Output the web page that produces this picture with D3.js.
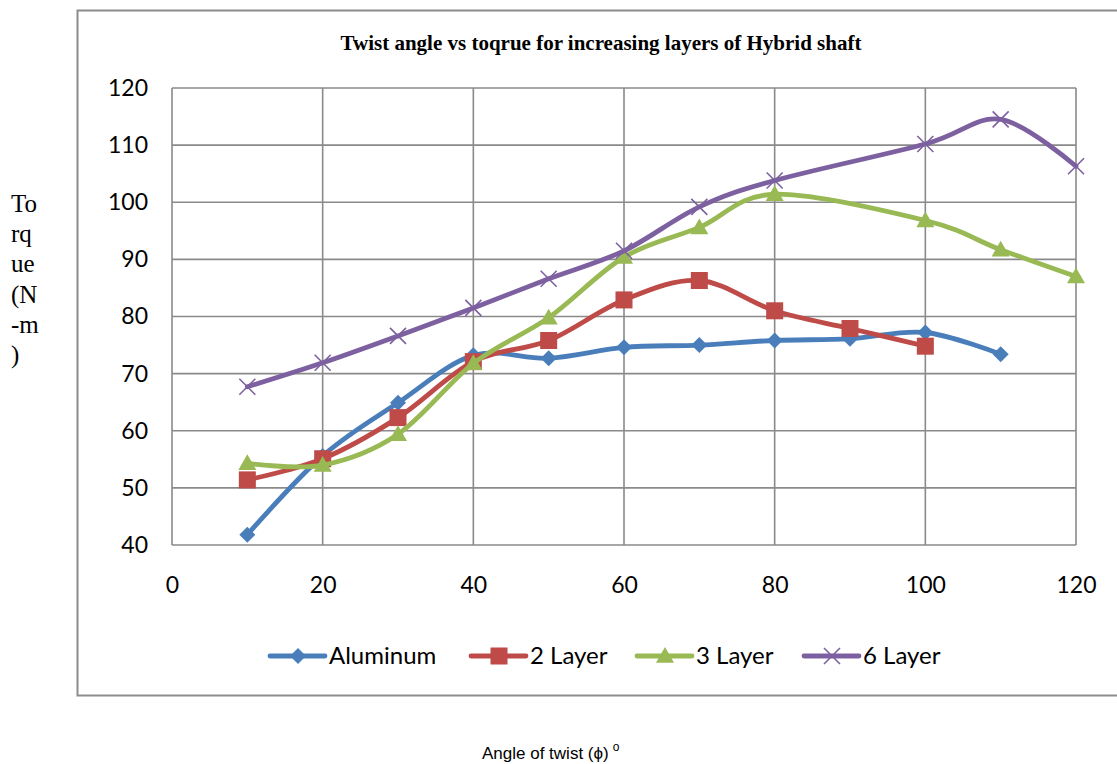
<!DOCTYPE html>
<html>
<head>
<meta charset="utf-8">
<script src="https://cdn.jsdelivr.net/npm/d3@7"></script>
<style>
  html, body { margin: 0; padding: 0; background: #ffffff; }
  svg { display: block; }
</style>
</head>
<body>
<svg id="chart" width="1117" height="764"></svg>
<script>
// Twist angle (degrees) against torque (N-m) for each shaft build
const aluminumAngle = [10, 20, 30, 40, 50, 60, 70, 80, 90, 100, 110];
const aluminumTorque = [41.8, 55.6, 64.9, 73.2, 72.7, 74.6, 75.0, 75.8, 76.1, 77.2, 73.4];

const layer2Angle = [10, 20, 30, 40, 50, 60, 70, 80, 90, 100];
const layer2Torque = [51.4, 55.1, 62.3, 72.1, 75.8, 82.9, 86.3, 81.0, 77.9, 74.8];

const layer3Angle = [10, 20, 30, 40, 50, 60, 70, 80, 100, 110, 120];
const layer3Torque = [54.3, 54.0, 59.4, 71.8, 79.8, 90.4, 95.6, 101.4, 96.8, 91.7, 87.0];

const layer6Angle = [10, 20, 30, 40, 50, 60, 70, 80, 100, 110, 120];
const layer6Torque = [67.7, 71.9, 76.6, 81.5, 86.6, 91.5, 99.2, 103.8, 110.2, 114.5, 106.3];

const seriesNames = ["Aluminum", "2 Layer", "3 Layer", "6 Layer"];
const xTicks = [0, 20, 40, 60, 80, 100, 120];
const yTicks = [40, 50, 60, 70, 80, 90, 100, 110, 120];

const chartTitle = "Twist angle vs toqrue for increasing layers of Hybrid shaft";
const yLabelLines = ["To", "rq", "ue", "(N", "-m", ")"];
const xLabel = "Angle of twist (\u03d5)";

const series = [
  { name: seriesNames[0], xs: aluminumAngle, ys: aluminumTorque, color: "#4a7ebb", marker: "diamond" },
  { name: seriesNames[1], xs: layer2Angle, ys: layer2Torque, color: "#be4b48", marker: "square" },
  { name: seriesNames[2], xs: layer3Angle, ys: layer3Torque, color: "#98b954", marker: "triangle" },
  { name: seriesNames[3], xs: layer6Angle, ys: layer6Torque, color: "#7d60a0", marker: "cross" }
];

const svg = d3.select("#chart");
const plot = { left: 172, right: 1076, top: 88, bottom: 545 };

const x = d3.scaleLinear().domain([0, 120]).range([plot.left, plot.right]);
const y = d3.scaleLinear().domain([40, 120]).range([plot.bottom, plot.top]);

// outer chart frame (its right edge runs past the page)
svg.append("rect")
  .attr("x", 77.5).attr("y", 10.5)
  .attr("width", 1060).attr("height", 685)
  .attr("fill", "#ffffff")
  .attr("stroke", "#8c8c8c").attr("stroke-width", 2);

// title
svg.append("text")
  .attr("x", 601).attr("y", 50)
  .attr("text-anchor", "middle")
  .attr("font-family", "'Liberation Serif', 'Times New Roman', serif")
  .attr("font-weight", "bold")
  .attr("font-size", 21)
  .attr("fill", "#000")
  .text(chartTitle);

// gridlines
const grid = svg.append("g").attr("stroke", "#8a8a8a").attr("stroke-width", 1.6);
grid.selectAll("line.v").data(xTicks).join("line")
  .attr("class", "v")
  .attr("x1", d => x(d)).attr("x2", d => x(d))
  .attr("y1", plot.top).attr("y2", plot.bottom);
grid.selectAll("line.h").data(yTicks).join("line")
  .attr("class", "h")
  .attr("x1", plot.left).attr("x2", plot.right)
  .attr("y1", d => y(d)).attr("y2", d => y(d));

// axes (labels only, the grid provides the lines)
const fontTick = "Lato, 'Open Sans', sans-serif";
const yAxis = d3.axisLeft(y).tickValues(yTicks).tickSize(0).tickPadding(24);
const gy = svg.append("g").attr("transform", `translate(${plot.left},0)`).call(yAxis);
gy.select(".domain").remove();
gy.selectAll("text").attr("font-family", fontTick).attr("font-size", 23).attr("fill", "#000");

const xAxis = d3.axisBottom(x).tickValues(xTicks).tickSize(0).tickPadding(32);
const gx = svg.append("g").attr("transform", `translate(0,${plot.bottom})`).call(xAxis);
gx.select(".domain").remove();
gx.selectAll("text").attr("font-family", fontTick).attr("font-size", 23).attr("fill", "#000");

// marker shapes
function drawMarker(g, type, color, cx, cy, scale) {
  const s = scale || 1;
  if (type === "diamond") {
    const r = 8 * s;
    g.append("path")
      .attr("d", `M${cx},${cy - r}L${cx + r},${cy}L${cx},${cy + r}L${cx - r},${cy}Z`)
      .attr("fill", color);
  } else if (type === "square") {
    const h = 8.5 * s;
    g.append("rect")
      .attr("x", cx - h).attr("y", cy - h)
      .attr("width", 2 * h).attr("height", 2 * h)
      .attr("fill", color);
  } else if (type === "triangle") {
    const h = 9 * s;
    g.append("path")
      .attr("d", `M${cx},${cy - h}L${cx + h},${cy + h * 0.75}L${cx - h},${cy + h * 0.75}Z`)
      .attr("fill", color);
  } else if (type === "cross") {
    const r = 8 * s;
    g.append("path")
      .attr("d", `M${cx - r},${cy - r}L${cx + r},${cy + r}M${cx - r},${cy + r}L${cx + r},${cy - r}`)
      .attr("stroke", color).attr("stroke-width", 1.6).attr("fill", "none");
  }
}

// smoothed series lines and their markers
const line = d3.line()
  .x(d => x(d[0])).y(d => y(d[1]))
  .curve(d3.curveCatmullRom.alpha(0));

series.forEach(s => {
  const pts = s.xs.map((v, i) => [v, s.ys[i]]);
  const g = svg.append("g");
  g.append("path")
    .datum(pts)
    .attr("d", line)
    .attr("fill", "none")
    .attr("stroke", s.color)
    .attr("stroke-width", 4.8)
    .attr("stroke-linejoin", "round")
    .attr("stroke-linecap", "round");
  pts.forEach(p => drawMarker(g, s.marker, s.color, x(p[0]), y(p[1])));
});

// legend
const legendX = [270, 471, 637, 804];
const legendY = 656;
series.forEach((s, i) => {
  const g = svg.append("g");
  const lx = legendX[i];
  g.append("line")
    .attr("x1", lx).attr("x2", lx + 55)
    .attr("y1", legendY).attr("y2", legendY)
    .attr("stroke", s.color).attr("stroke-width", 4.8)
    .attr("stroke-linecap", "round");
  drawMarker(g, s.marker, s.color, lx + 28, legendY);
  g.append("text")
    .attr("x", lx + 59).attr("y", legendY + 8)
    .attr("font-family", fontTick)
    .attr("font-size", 24)
    .attr("fill", "#000")
    .text(s.name);
});

// y-axis title, broken over several short lines
const yl = svg.append("text")
  .attr("font-family", "'Liberation Serif', 'Times New Roman', serif")
  .attr("font-size", 25)
  .attr("fill", "#000");
yLabelLines.forEach((t, i) => {
  yl.append("tspan").attr("x", 11).attr("y", 212 + i * 30.2).text(t);
});

// x-axis title with degree mark
const xl = svg.append("text")
  .attr("x", 482).attr("y", 759)
  .attr("font-family", "'Liberation Sans', Arial, sans-serif")
  .attr("font-size", 17)
  .attr("fill", "#000");
xl.append("tspan").text(xLabel);
xl.append("tspan").attr("dx", 4).attr("dy", -8).attr("font-size", 12).text("o");
</script>
</body>
</html>
